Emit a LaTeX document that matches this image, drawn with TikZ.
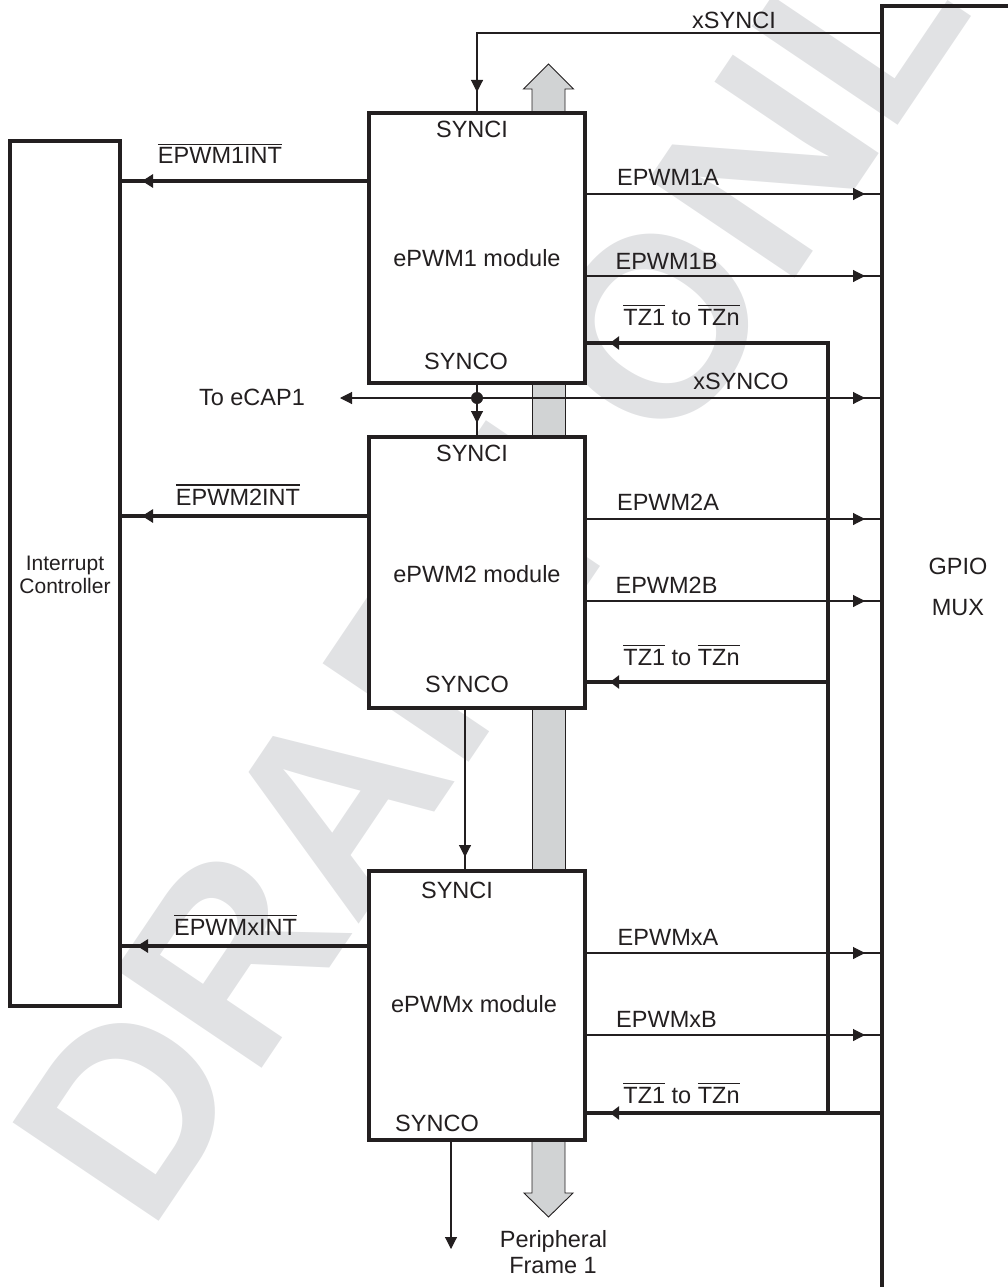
\documentclass[tikz,border=0pt]{standalone}
\usepackage{fontspec}
\setmainfont{Liberation Sans}
\usetikzlibrary{arrows.meta,decorations.markings}
\definecolor{ink}{HTML}{231F20}
\definecolor{busgray}{HTML}{D1D3D4}
\definecolor{wmgray}{HTML}{E1E2E4}
\newcommand\ovl[1]{\vbox{\hrule height 1.6pt\kern 2.6pt\hbox{#1}}}
\begin{document}
\begin{tikzpicture}[x=1pt,y=-1pt,
  lbl/.style={font=\fontsize{23.5}{28}\selectfont, text=ink, inner sep=0pt, anchor=base},
  smlbl/.style={font=\fontsize{21}{23}\selectfont, text=ink, inner sep=0pt, anchor=base},
  thinln/.style={draw=ink, color=ink, line width=1.1pt},
  intln/.style={draw=ink, color=ink, line width=3.5pt},
  tzln/.style={draw=ink, color=ink, line width=4.6pt},
  modbox/.style={draw=ink, line width=3.7pt, fill=white, minimum width=216pt, inner sep=0pt, outer sep=0pt},
  midtip/.style={postaction={decorate}, decoration={markings, mark=at position #1 with {\arrow{Triangle[length=12pt,width=12pt]}}}},
  inttip/.style={postaction={decorate}, decoration={markings, mark=at position #1 with {\arrow{Triangle[length=11pt,width=13pt]}}}},
  tztip/.style={postaction={decorate}, decoration={markings, mark=at position #1 with {\arrow{Triangle[length=9pt,width=13pt]}}}},
  endtip/.style={-{Triangle[length=12pt,width=12pt]}}
]
\useasboundingbox (0,0) rectangle (1008,1287);

% watermark
\node[rotate=56, anchor=base west, inner sep=0pt, text=wmgray,
      font=\fontsize{256}{256}\bfseries\selectfont] (wm) at (149,1236) {DRAFT ONLY};

% peripheral bus
\draw[draw=ink, line width=0.9pt, fill=busgray] (532,113) -- (532,89) -- (523.5,89) -- (548.5,64) -- (573.5,89) -- (565,89) -- (565,113);
\fill[busgray] (532,383) rectangle (565,437);
\draw[draw=ink, line width=0.9pt] (532,383) -- (532,437) (565,383) -- (565,437);
\fill[busgray] (532,708) rectangle (565,871);
\draw[draw=ink, line width=0.9pt] (532,708) -- (532,871) (565,708) -- (565,871);
\draw[draw=ink, line width=0.9pt, fill=busgray] (532,1140) -- (532,1193) -- (524,1193) -- (548.5,1217) -- (573,1193) -- (565,1193) -- (565,1140);

% boxes
\node[modbox, minimum height=270pt] (b1) at (477,248) {};
\node[modbox, minimum height=271pt] (b2) at (477,572.5) {};
\node[modbox, minimum height=269pt] (bx) at (477,1005.5) {};
\node[draw=ink, line width=3.4pt, fill=white, minimum width=110pt, minimum height=865pt, inner sep=0pt, outer sep=0pt] (ic) at (65,573.5) {};

% GPIO MUX outline
\coordinate (gpbot) at (882,1290);
\coordinate (gptop) at (882,6);
\coordinate (gpright) at (1010,6);
\draw[draw=ink, line width=3.3pt] (gpbot) -- (gptop) -- (gpright);
\coordinate (gp) at (882,0);
\coordinate (tzx) at (828,0);

% box texts
\node[lbl] (s1i) at (472,137) {SYNCI};
\node[lbl] (m1) at (477,266) {ePWM1 module};
\node[lbl] (s1o) at (466,369) {SYNCO};
\node[lbl] (s2i) at (472,461) {SYNCI};
\node[lbl] (m2) at (477,582) {ePWM2 module};
\node[lbl] (s2o) at (467,692) {SYNCO};
\node[lbl] (sxi) at (457,898) {SYNCI};
\node[lbl] (mx) at (474,1012) {ePWMx module};
\node[lbl] (sxo) at (437,1131) {SYNCO};

\node[smlbl] (ic1) at (65,570) {Interrupt};
\node[smlbl] (ic2) at (65,593) {Controller};
\node[lbl] (g1) at (958,574) {GPIO};
\node[lbl] (g2) at (958,615) {MUX};
\node[lbl] (pf1) at (553.5,1247) {Peripheral};
\node[lbl] (pf2) at (553,1273) {Frame 1};

% signal labels
\node[lbl] (lxi) at (734,29) {xSYNCI};
\node[lbl] (lxo) at (741,389) {xSYNCO};
\node[lbl] (lec) at (252,405) {To eCAP1};
\node[lbl] (li1) at (220,164) {\ovl{EPWM1INT}};
\node[lbl] (li2) at (238,505) {\ovl{EPWM2INT}};
\node[lbl] (lix) at (235.5,935) {\ovl{EPWMxINT}};
\node[lbl] (l1a) at (668,185) {EPWM1A};
\node[lbl] (l1b) at (666.5,269.5) {EPWM1B};
\node[lbl] (l2a) at (668,510) {EPWM2A};
\node[lbl] (l2b) at (666.5,593) {EPWM2B};
\node[lbl] (lxa) at (668,945) {EPWMxA};
\node[lbl] (lxb) at (666.5,1027) {EPWMxB};
\node[lbl] (lt1) at (681.5,325) {\ovl{TZ1} to \ovl{TZn}};
\node[lbl] (lt2) at (681.5,665) {\ovl{TZ1} to \ovl{TZn}};
\node[lbl] (ltx) at (681.5,1103) {\ovl{TZ1} to \ovl{TZn}};

% sync chain
\draw[thinln, midtip=-21pt] (gp |- 0,33) -- (b1.north |- 0,33) -- (b1.north);
\draw[thinln, midtip=-14pt] (b1.south) -- (b2.north);
\node[circle, fill=ink, inner sep=0pt, minimum size=12pt] (dot) at (477,398) {};
\coordinate (ecap) at (340,398);
\draw[thinln, endtip] (dot) -- (ecap);
\draw[thinln, midtip=-17pt] (dot) -- (gp |- dot);
\draw[thinln, midtip=-14pt] (b2.south -| 465,0) -- (bx.north -| 465,0);
\coordinate (xout) at (451,1249);
\draw[thinln, endtip] (bx.south -| xout) -- (xout);

% interrupts
\draw[intln, inttip=-22pt] (b1.west |- 0,181) -- (ic.east |- 0,181);
\draw[intln, inttip=-22pt] (b2.west |- 0,516) -- (ic.east |- 0,516);
\draw[intln, inttip=-17pt] (bx.west |- 0,946) -- (ic.east |- 0,946);

% PWM outputs
\draw[thinln, midtip=-17pt] (b1.east |- 0,194) -- (gp |- 0,194);
\draw[thinln, midtip=-17pt] (b1.east |- 0,276) -- (gp |- 0,276);
\draw[thinln, midtip=-17pt] (b2.east |- 0,519) -- (gp |- 0,519);
\draw[thinln, midtip=-17pt] (b2.east |- 0,601) -- (gp |- 0,601);
\draw[thinln, midtip=-17pt] (bx.east |- 0,953) -- (gp |- 0,953);
\draw[thinln, midtip=-17pt] (bx.east |- 0,1035) -- (gp |- 0,1035);

% trip zones
\draw[tzln, tztip=-25pt] (tzx |- 0,1113) -- (tzx |- 0,343) -- (b1.east |- 0,343);
\draw[tzln, tztip=-25pt] (tzx |- 0,682) -- (b2.east |- 0,682);
\draw[tzln, tztip=-25pt] (gp |- 0,1113) -- (bx.east |- 0,1113);
\end{tikzpicture}
\end{document}
